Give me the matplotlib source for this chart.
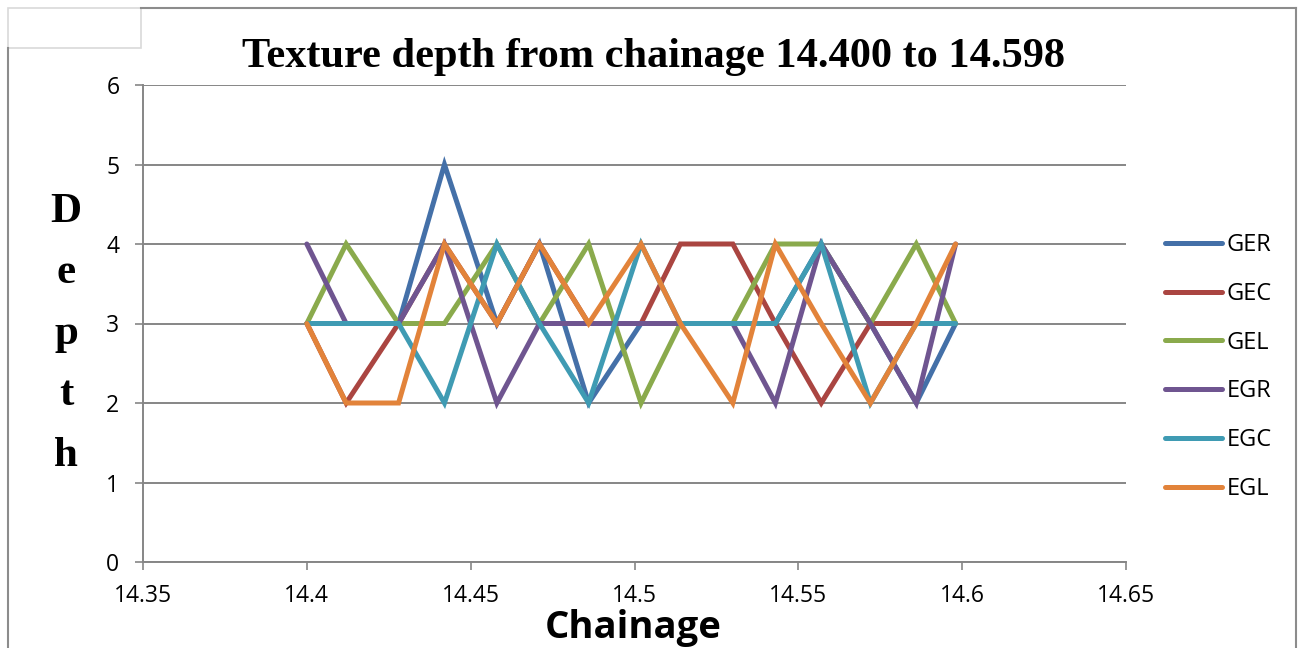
import matplotlib
matplotlib.use("Agg")
import matplotlib.pyplot as plt
from matplotlib.lines import Line2D
from matplotlib.patches import Rectangle

# ---- data ----
chainage = [14.400, 14.412, 14.428, 14.442, 14.458, 14.471, 14.486, 14.502,
            14.514, 14.530, 14.543, 14.557, 14.572, 14.586, 14.598]
GER = [3, 3, 3, 5, 3, 4, 2, 3, 3, 3, 3, 4, 3, 2, 3]
GEC = [3, 2, 3, 4, 3, 4, 3, 3, 4, 4, 3, 2, 3, 3, 3]
GEL = [3, 4, 3, 3, 4, 3, 4, 2, 3, 3, 4, 4, 3, 4, 3]
EGR = [4, 3, 3, 4, 2, 3, 3, 3, 3, 3, 2, 4, 3, 2, 4]
EGC = [3, 3, 3, 2, 4, 3, 2, 4, 3, 3, 3, 4, 2, 3, 3]
EGL = [3, 2, 2, 4, 3, 4, 3, 4, 3, 2, 4, 3, 2, 3, 4]
series_names = ["GER", "GEC", "GEL", "EGR", "EGC", "EGL"]
series_values = [GER, GEC, GEL, EGR, EGC, EGL]
x_ticks = [14.35, 14.40, 14.45, 14.50, 14.55, 14.60, 14.65]
x_tick_labels = ["14.35", "14.4", "14.45", "14.5", "14.55", "14.6", "14.65"]
y_ticks = [0, 1, 2, 3, 4, 5, 6]
title = "Texture depth from chainage 14.400 to 14.598"

colors = ["#4470A8", "#AA4541", "#8AAA4C", "#6F5590", "#3F9BB3", "#E2833A"]

W, H = 1304, 648
fig = plt.figure(figsize=(W / 100, H / 100), dpi=100)
fx = lambda px: px / W
fy = lambda py: 1 - py / H

ax = fig.add_axes([fx(143), fy(562), fx(1126) - fx(143), fy(85) - fy(562)])
grid_c = "#868686"

for name, vals, c in zip(series_names, series_values, colors):
    ax.plot(chainage, vals, color=c, lw=3.6, label=name,
            solid_joinstyle="miter", solid_capstyle="round", zorder=3)

ax.set_xlim(14.35, 14.65)
ax.set_ylim(0, 6)
ax.set_xticks(x_ticks)
ax.set_xticklabels(x_tick_labels)
ax.set_yticks(y_ticks)
ax.grid(axis="y", color=grid_c, lw=1.4, zorder=1)
ax.set_axisbelow(True)
for s in ["top", "right"]:
    ax.spines[s].set_visible(False)
for s in ["left", "bottom"]:
    ax.spines[s].set_color(grid_c)
    ax.spines[s].set_linewidth(1.4)
ax.tick_params(axis="both", direction="out", length=6, width=1.2, color=grid_c,
               labelsize=16.5, labelcolor="black")
ax.tick_params(axis="x", pad=10)
ax.tick_params(axis="y", pad=11)
for lab in ax.get_xticklabels() + ax.get_yticklabels():
    lab.set_fontfamily("Open Sans")

# legend
ax.legend(loc="center left", bbox_to_anchor=(fx(1165), fy(367)),
          bbox_transform=fig.transFigure, frameon=False, borderpad=0,
          borderaxespad=0, handlelength=2.4, handletextpad=0.2,
          labelspacing=1.05, prop={"family": "Open Sans", "size": 17})

# title
fig.text(fx(653), fy(67), title, ha="center", va="baseline",
         fontfamily="Liberation Serif", fontweight="bold", fontsize=30.5)

# y label stacked letters
for i, ch in enumerate("Depth"):
    fig.text(fx(66), fy(222 + 61 * i), ch, ha="center", va="baseline",
             fontfamily="Liberation Serif", fontweight="bold", fontsize=31)

# x label
fig.text(fx(633), fy(638), "Chainage", ha="center", va="baseline",
         fontfamily="Open Sans", fontweight="bold", fontsize=27.5)

# frame decorations
border_c = "#8C8C8C"
fig.add_artist(Line2D([fx(8), fx(8)], [fy(48), 0], transform=fig.transFigure,
                      color=border_c, lw=1.5))
fig.add_artist(Line2D([fx(141), fx(1296)], [fy(8), fy(8)], transform=fig.transFigure,
                      color=border_c, lw=1.5))
fig.add_artist(Line2D([fx(1296), fx(1296)], [fy(8), 0], transform=fig.transFigure,
                      color=border_c, lw=1.5))
fig.add_artist(Rectangle((fx(8), fy(48)), fx(141) - fx(8), fy(8) - fy(48),
                         transform=fig.transFigure, fill=False,
                         edgecolor="#D9D9D9", lw=1.2))

fig.savefig("out.png", dpi=100)
